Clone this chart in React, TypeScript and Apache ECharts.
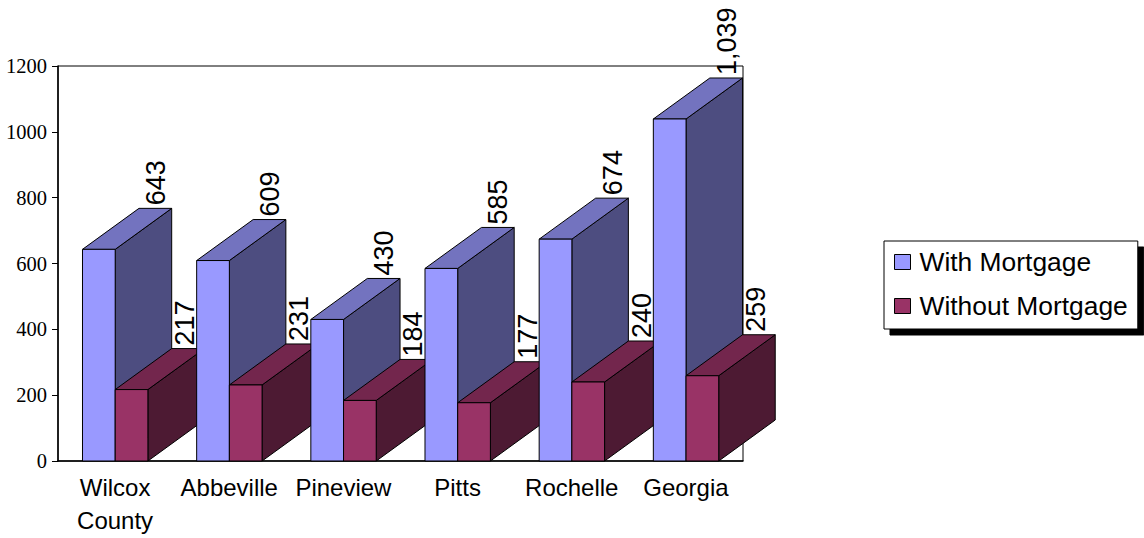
import React, { useEffect, useRef } from "react";
import * as echarts from "echarts";

const categories = ["Wilcox\nCounty", "Abbeville", "Pineview", "Pitts", "Rochelle", "Georgia"];
const withMortgage = [643, 609, 430, 585, 674, 1039];
const withoutMortgage = [217, 231, 184, 177, 240, 259];
const yTicks = { min: 0, max: 1200, interval: 200 };

const SANS = '"Liberation Sans", Arial, sans-serif';
const SERIF = '"Liberation Serif", "Times New Roman", serif';

// Extrusion of every column towards the back of the chart, in pixels.
const DEPTH_X = 56.5;
const DEPTH_Y = -41;
// Share of a category band taken by the leading gap and by one column.
const GAP_SHARE = 24.5 / 114.17;
const BAR_SHARE = 32.7 / 114.17;

function columnSeries(
  name: string,
  values: number[],
  slot: number,
  labelShift: number,
  front: string,
  top: string,
  side: string
) {
  return {
    name,
    type: "custom",
    coordinateSystem: "cartesian2d",
    itemStyle: { color: front },
    encode: { x: 0, y: 1 },
    data: values.map((v, i) => [i, v]),
    clip: false,
    renderItem: (params: any, api: any) => {
      const idx = api.value(0);
      const value = api.value(1);
      const band = api.size([1, 0])[0];
      const center = api.coord([idx, 0]);
      const head = api.coord([idx, value]);
      const barW = band * BAR_SHARE;
      const x0 = center[0] - band / 2 + band * GAP_SHARE + slot * barW;
      const x1 = x0 + barW;
      const yTop = head[1];
      const yBase = center[1];
      // Columns further right sit in front of the side wall of their neighbours.
      const order = idx * 10 + slot * 4;
      const edge = { stroke: "#000", lineWidth: 1 };
      return {
        type: "group",
        children: [
          {
            type: "polygon",
            z2: order + 1,
            shape: {
              points: [
                [x1, yTop],
                [x1 + DEPTH_X, yTop + DEPTH_Y],
                [x1 + DEPTH_X, yBase + DEPTH_Y],
                [x1, yBase],
              ],
            },
            style: { fill: side, ...edge },
          },
          {
            type: "polygon",
            z2: order + 2,
            shape: {
              points: [
                [x0, yTop],
                [x0 + DEPTH_X, yTop + DEPTH_Y],
                [x1 + DEPTH_X, yTop + DEPTH_Y],
                [x1, yTop],
              ],
            },
            style: { fill: top, ...edge },
          },
          {
            type: "rect",
            z2: order + 3,
            shape: { x: x0, y: yTop, width: barW, height: yBase - yTop },
            style: { fill: front, ...edge },
          },
          {
            type: "text",
            z2: 1000,
            x: (x0 + x1) / 2 + DEPTH_X + labelShift,
            y: yTop + DEPTH_Y - 3,
            rotation: Math.PI / 2,
            style: {
              text: value.toLocaleString("en-US"),
              font: `27px ${SANS}`,
              fill: "#000",
              align: "left",
              verticalAlign: "middle",
            },
          },
        ],
      };
    },
  };
}

export default function App() {
  const ref = useRef<HTMLDivElement>(null);

  useEffect(() => {
    const chart = echarts.init(ref.current!, undefined, { renderer: "svg" });
    chart.setOption({
      animation: false,
      backgroundColor: "#fff",
      grid: {
        left: 58,
        top: 66,
        width: 685,
        height: 395,
        show: true,
        borderColor: "#000",
        borderWidth: 1,
        backgroundColor: "transparent",
      },
      xAxis: {
        type: "category",
        data: categories,
        axisLine: { lineStyle: { color: "#000", width: 1.5 } },
        axisTick: { show: false },
        axisLabel: {
          interval: 0,
          color: "#000",
          fontFamily: SANS,
          fontSize: 24,
          lineHeight: 33,
          margin: 10,
        },
      },
      yAxis: {
        type: "value",
        ...yTicks,
        splitLine: { show: false },
        axisLine: { show: true, lineStyle: { color: "#000", width: 1.5 } },
        axisTick: { show: true, length: 6, lineStyle: { color: "#000" } },
        axisLabel: {
          color: "#000",
          fontFamily: SERIF,
          fontSize: 20.5,
          margin: 11,
          formatter: (v: number) => String(v),
        },
      },
      legend: {
        left: 884,
        top: 241,
        orient: "vertical",
        align: "left",
        icon: "rect",
        itemWidth: 16,
        itemHeight: 15,
        itemGap: 14,
        padding: [6, 10, 8, 10],
        backgroundColor: "#fff",
        borderColor: "#000",
        borderWidth: 1,
        shadowColor: "#000",
        shadowBlur: 0,
        shadowOffsetX: 6,
        shadowOffsetY: 6,
        itemStyle: { borderColor: "#000", borderWidth: 1 },
        textStyle: {
          color: "#000",
          fontFamily: SANS,
          fontSize: 26.4,
          lineHeight: 30,
          padding: [0, 0, 0, 4],
        },
        data: ["With Mortgage", "Without Mortgage"],
      },
      series: [
        columnSeries("With Mortgage", withMortgage, 0, 0.5, "#9999FF", "#7373BF", "#4D4D80"),
        columnSeries("Without Mortgage", withoutMortgage, 1, -3, "#993366", "#73264D", "#4D1A33"),
      ],
    });
    return () => chart.dispose();
  }, []);

  return (
    <div
      ref={ref}
      style={{ position: "absolute", left: 0, top: 0, width: 1144, height: 538 }}
    />
  );
}
